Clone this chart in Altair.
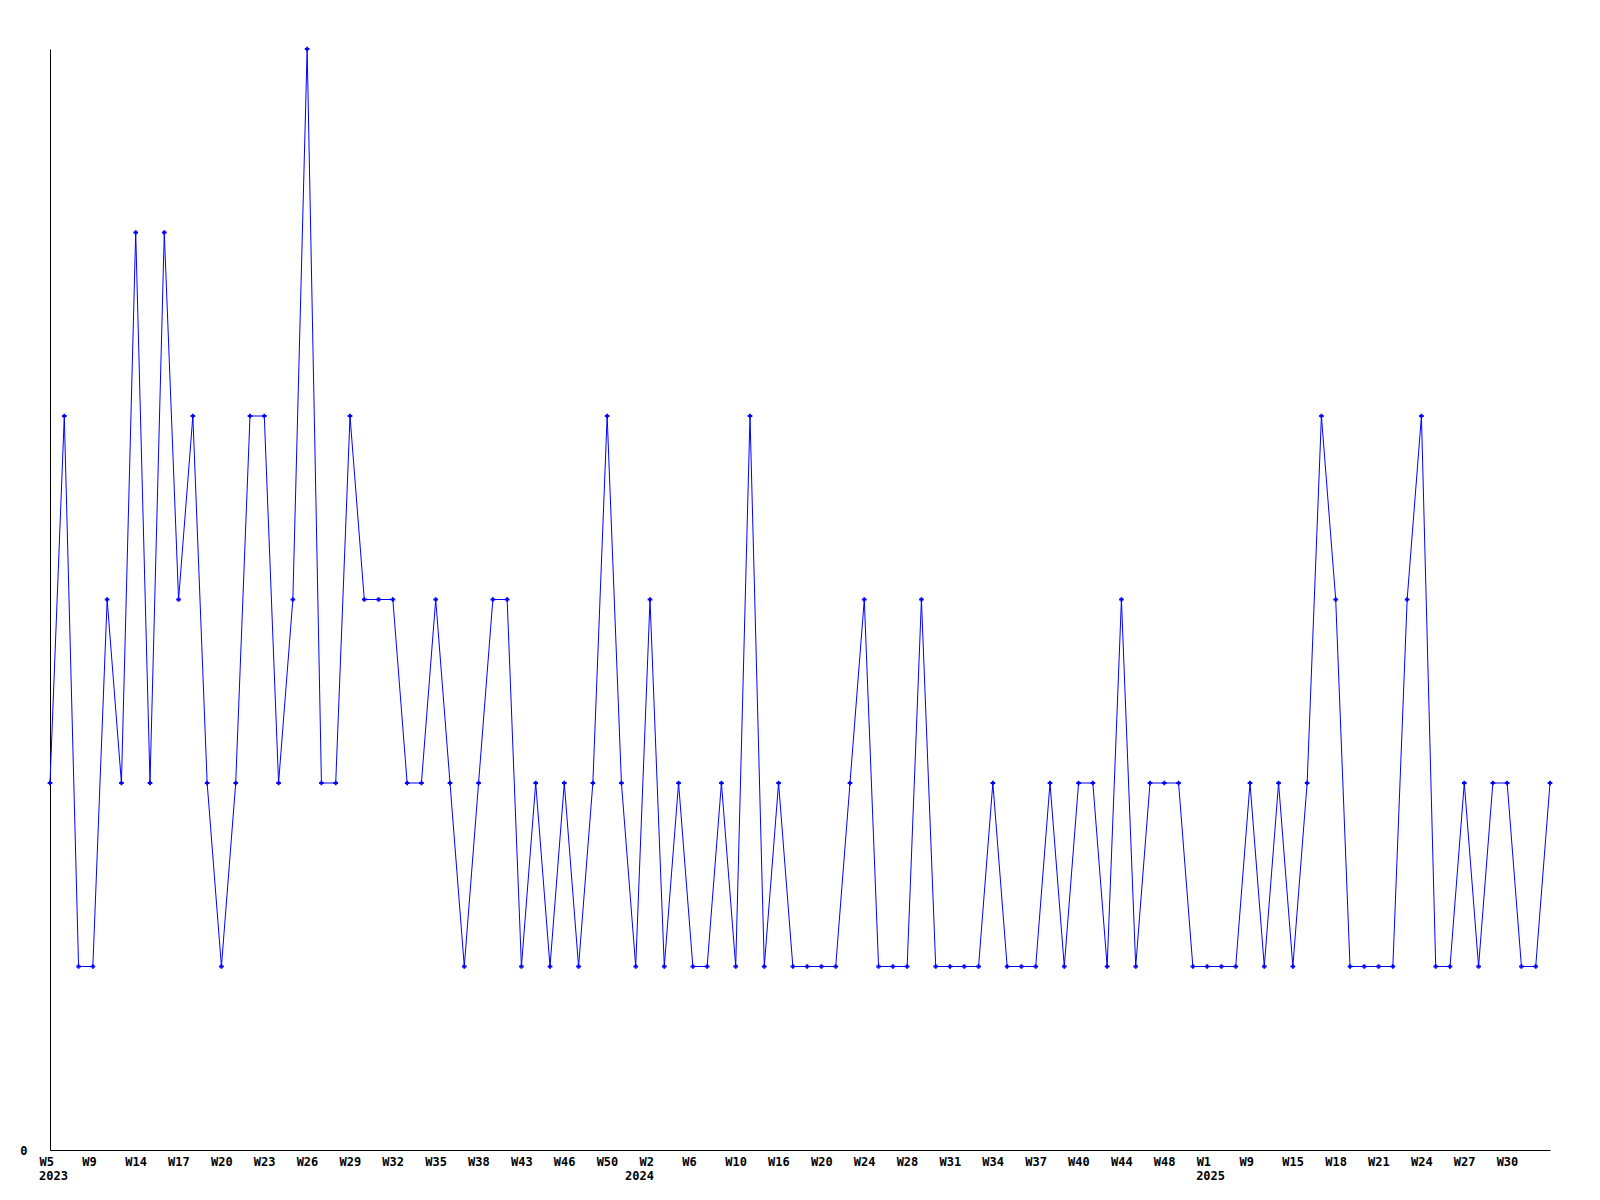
import altair as alt
import pandas as pd

values = [2, 4, 1, 1, 3, 2, 5, 2, 5, 3,
          4, 2, 1, 2, 4, 4, 2, 3, 6, 2,
          2, 4, 3, 3, 3, 2, 2, 3, 2, 1,
          2, 3, 3, 1, 2, 1, 2, 1, 2, 4,
          2, 1, 3, 1, 2, 1, 1, 2, 1, 4,
          1, 2, 1, 1, 1, 1, 2, 3, 1, 1,
          1, 3, 1, 1, 1, 1, 2, 1, 1, 1,
          2, 1, 2, 2, 1, 3, 1, 2, 2, 2,
          1, 1, 1, 1, 2, 1, 2, 1, 2, 4,
          3, 1, 1, 1, 1, 3, 4, 1, 1, 2,
          1, 2, 2, 1, 1, 2]

tick_labels = ["W5", "W9", "W14", "W17", "W20", "W23", "W26", "W29", "W32", "W35",
               "W38", "W43", "W46", "W50", "W2", "W6", "W10", "W16", "W20", "W24",
               "W28", "W31", "W34", "W37", "W40", "W44", "W48", "W1", "W9", "W15",
               "W18", "W21", "W24", "W27", "W30"]
tick_step = 3

year_labels = ["2023", "2024", "2025"]
year_index = [0, 42, 81]

df = pd.DataFrame({"i": list(range(len(values))), "v": values})
years = pd.DataFrame({"i": year_index, "year": year_labels})

arr = "[" + ",".join("'" + t + "'" for t in tick_labels) + "]"
FONT = "DejaVu Sans Mono"

xscale = alt.Scale(domain=[0, len(values) - 1], nice=False, zero=False)
yscale = alt.Scale(domain=[0, 6], nice=False)

xaxis = alt.Axis(values=[k * tick_step for k in range(len(tick_labels))],
                 labelExpr=arr + "[round(datum.value/" + str(tick_step) + ")]",
                 ticks=False, grid=False, domainColor="black", domainWidth=1,
                 labelFont=FONT, labelFontWeight="bold", labelFontSize=12,
                 labelColor="black", labelPadding=6, labelFlush=False,
                 labelAlign="left", labelOffset=-11,
                 labelOverlap=False, labelBound=False, title=None)
yaxis = alt.Axis(values=[0], format="d", ticks=False, grid=False, domainColor="black",
                 domainWidth=1, labelFont=FONT, labelFontWeight="bold",
                 labelFontSize=12, labelColor="black", labelPadding=23, title=None)

base = alt.Chart(df)
line = base.mark_line(color="#0000FF", strokeWidth=1).encode(
    x=alt.X("i:Q", scale=xscale, axis=xaxis),
    y=alt.Y("v:Q", scale=yscale, axis=yaxis),
)
pts = base.mark_point(shape="cross", filled=True, size=22, color="#0000FF", opacity=1).encode(
    x=alt.X("i:Q", scale=xscale),
    y=alt.Y("v:Q", scale=yscale),
)
yr_left = alt.Chart(years).transform_filter("datum.year != '2024'").mark_text(
    font=FONT, fontWeight="bold", fontSize=12, color="black",
    align="left", baseline="top", dx=-11).encode(
    x=alt.X("i:Q", scale=xscale),
    y=alt.value(1122),
    text="year:N",
)
yr_right = alt.Chart(years).transform_filter("datum.year == '2024'").mark_text(
    font=FONT, fontWeight="bold", fontSize=12, color="black",
    align="right", baseline="top", dx=4).encode(
    x=alt.X("i:Q", scale=xscale),
    y=alt.value(1122),
    text="year:N",
)

chart = alt.layer(line, pts, yr_left, yr_right).properties(
    width=1500, height=1101,
    autosize=alt.AutoSizeParams(type="none"),
    padding={"left": 42, "top": 41, "right": 40, "bottom": 40},
).configure_view(stroke=None)

chart.save("out.html", embed_options={"renderer": "svg", "actions": False})
